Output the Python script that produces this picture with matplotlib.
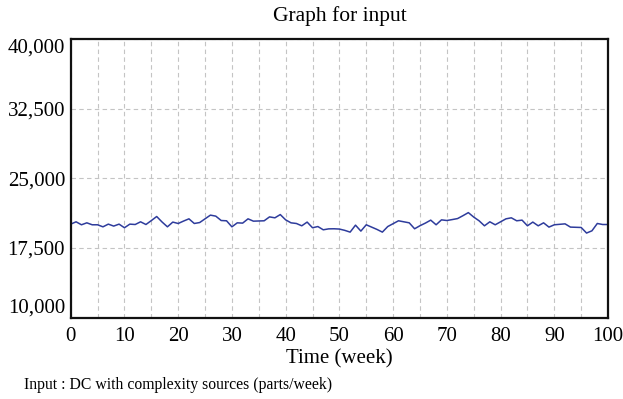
import matplotlib

matplotlib.use("Agg")
import matplotlib.pyplot as plt
import numpy as np
from matplotlib.ticker import FuncFormatter, MultipleLocator

# weekly input values (parts/week)
weeks = np.arange(0, 101)
input_values = [
    20070, 20320, 20000, 20210, 20000, 20000, 19780, 20070, 19860, 20070,
    19680, 20070, 20030, 20320, 20030, 20450, 20890, 20300, 19780, 20290,
    20140, 20400, 20640, 20140, 20240, 20640, 21040, 20930, 20460, 20430,
    19780, 20210, 20180, 20640, 20390, 20410, 20430, 20850, 20750, 21100,
    20530, 20210, 20140, 19890, 20290, 19680, 19810, 19460, 19560, 19570,
    19540, 19400, 19210, 19960, 19320, 20000, 19750, 19500, 19210, 19810,
    20120, 20430, 20320, 20210, 19570, 19900, 20180, 20500, 20000, 20530,
    20460, 20560, 20670, 20980, 21310, 20830, 20430, 19890, 20320, 20000,
    20320, 20640, 20750, 20430, 20500, 19890, 20290, 19890, 20210, 19750,
    20000, 20050, 20100, 19750, 19730, 19710, 19110, 19350, 20140, 20030,
    20030,
]
y_ticks = [10000, 17500, 25000, 32500, 40000]
x_ticks = list(range(0, 101, 10))

plt.rcParams["font.family"] = ["Liberation Serif", "DejaVu Serif"]

fig = plt.figure(figsize=(6.23, 3.99), dpi=100)
ax = fig.add_axes([0.1135, 0.2038, 0.8625, 0.6985])

ax.plot(weeks, input_values, color="#2e3c9c", linewidth=1.1)

ax.set_xlim(0, 100)
ax.set_ylim(10000, 40000)
ax.set_xticks(x_ticks)
ax.set_yticks(y_ticks)
ax.xaxis.set_minor_locator(MultipleLocator(5))
ax.yaxis.set_major_formatter(FuncFormatter(lambda v, _: f"{int(v):,}"))

grid_style = dict(color="#c4c4c4", linestyle=(0, (4, 3)), linewidth=0.8)
ax.grid(which="both", axis="x", **grid_style)
ax.grid(which="major", axis="y", **grid_style)
ax.tick_params(which="both", length=0, labelsize=15)
ax.tick_params(axis="x", pad=7)
ax.tick_params(axis="y", pad=4)

# end labels sit inside the axis range, like the original tool draws them
ylabels = ax.get_yticklabels()
ylabels[0].set_va("bottom")
ylabels[-1].set_va("top")

for spine in ax.spines.values():
    spine.set_linewidth(1.6)
    spine.set_color("#111111")

ax.set_title("Graph for input", fontsize=15.5, pad=13)
ax.set_xlabel("Time (week)", fontsize=15, labelpad=2)
fig.text(0.039, 0.036, "Input : DC with complexity sources (parts/week)",
         fontsize=11.3, va="center")

fig.savefig("out.png", dpi=100)
